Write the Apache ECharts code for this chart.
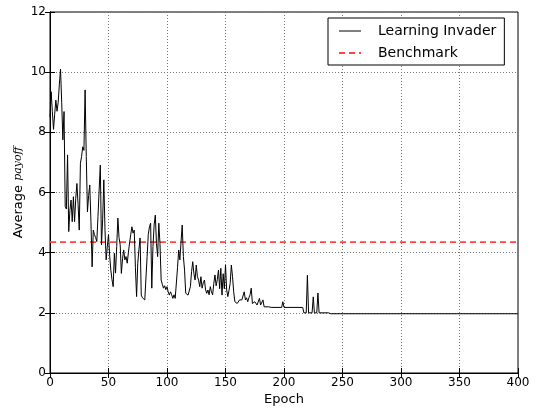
<!DOCTYPE html>
<html>
<head>
<meta charset="utf-8">
<script src="https://cdn.jsdelivr.net/npm/echarts@6/dist/echarts.min.js"></script>
<style>
  html, body { margin: 0; padding: 0; background: #fff; }
  #chart { width: 537px; height: 412px; }
</style>
</head>
<body>
<div id="chart"></div>
<script>
// Average payoff of the learning invader per training epoch
const epochs = [
  0, 1, 2, 3, 4, 5, 6, 7, 8, 9, 10, 11, 12, 13, 14, 15, 16, 17, 18, 19,
  20, 21, 22, 23, 24, 25, 26, 27, 28, 29, 30, 31, 32, 33, 34, 35, 36, 37, 38, 39,
  40, 41, 42, 43, 44, 45, 46, 47, 48, 49, 50, 51, 52, 53, 54, 55, 56, 57, 58, 59,
  60, 61, 62, 63, 64, 65, 66, 67, 68, 69, 70, 71, 72, 73, 74, 75, 76, 77, 78, 79,
  80, 81, 82, 83, 84, 85, 86, 87, 88, 89, 90, 91, 92, 93, 94, 95, 96, 97, 98, 99,
  100, 101, 102, 103, 104, 105, 106, 107, 108, 109, 110, 111, 112, 113, 114, 115, 116, 117, 118, 119,
  120, 121, 122, 123, 124, 125, 126, 127, 128, 129, 130, 131, 132, 133, 134, 135, 136, 137, 138, 139,
  140, 141, 142, 143, 144, 145, 146, 147, 148, 149, 150, 151, 152, 153, 154, 155, 156, 157, 158, 159,
  160, 161, 162, 163, 164, 165, 166, 167, 168, 169, 170, 171, 172, 173, 174, 175, 176, 177, 178, 179,
  180, 181, 182, 183, 187, 188, 189, 198, 199, 200, 216, 217, 219, 220, 221, 224, 225, 226, 228, 229,
  230, 238, 240, 400
];
const payoff = [
  8.5, 9.35, 8.7, 8.1, 8.6, 9.07, 8.7, 9.0, 9.6, 10.1, 9.0, 7.75, 8.69, 5.53, 5.45, 7.25, 4.7, 5.4, 5.75, 5.03,
  5.86, 5.03, 5.8, 6.3, 5.6, 4.75, 6.97, 7.2, 7.52, 7.4, 9.41, 7.2, 5.36, 5.9, 6.25, 5.03, 3.53, 4.75, 4.6, 4.5,
  4.37, 5.2, 6.08, 6.91, 4.26, 5.09, 6.42, 4.75, 3.76, 4.2, 4.6, 3.9, 3.42, 3.1, 2.87, 3.98, 3.32, 4.2, 5.15, 4.5,
  4.26, 3.31, 3.8, 4.09, 3.76, 3.87, 3.65, 4.0, 4.32, 4.6, 4.86, 4.65, 4.75, 3.5, 2.54, 3.65, 4.1, 4.49, 2.59, 2.5,
  2.49, 2.43, 2.38, 3.87, 4.6, 4.86, 4.98, 2.82, 4.2, 4.92, 5.25, 4.3, 3.87, 4.98, 4.3, 3.09, 2.95, 2.82, 2.9, 2.77,
  2.87, 2.7, 2.59, 2.7, 2.6, 2.48, 2.6, 2.48, 2.52, 3.5, 4.09, 3.76, 4.36, 4.92, 3.87, 3.42, 2.65, 2.62, 2.59, 2.54,
  2.87, 3.37, 3.7, 3.3, 3.09, 3.59, 3.2, 3.09, 2.87, 3.2, 2.82, 3.0, 3.09, 2.76, 2.65, 2.76, 2.6, 2.87, 2.7, 2.6,
  2.98, 3.26, 2.9, 3.1, 3.42, 2.8, 3.48, 2.59, 3.3, 2.8, 3.59, 2.76, 2.54, 2.75, 2.98, 3.59, 3.2, 2.7, 2.37, 2.31,
  2.31, 2.31, 2.43, 2.48, 2.43, 2.45, 2.7, 2.43, 2.5, 2.37, 2.5, 2.6, 2.82, 2.31, 2.31, 2.37, 2.31, 2.26, 2.26, 2.48,
  2.26, 2.26, 2.43, 2.2, 2.2, 2.26, 2.18, 2.18, 2.37, 2.18, 2.18, 2.0, 2.0, 3.25, 2.0, 2.0, 2.53, 2.0, 2.0, 2.66,
  2.0, 2.0, 1.97, 1.97
];

// Constant benchmark payoff
const benchmarkEpochs = [0, 400];
const benchmarkValue = 4.35;

const xTicks = { min: 0, max: 400, interval: 50 };
const yTicks = { min: 0, max: 12, interval: 2 };

const font = 'DejaVu Sans';
const gridLine = { show: true, lineStyle: { color: '#777', width: 1, type: [1, 2] } };
const hiddenMarker = { color: 'rgba(0,0,0,0)', borderColor: 'rgba(0,0,0,0)', borderWidth: 0 };

const chart = echarts.init(document.getElementById('chart'), null, { renderer: 'canvas' });

chart.setOption({
  animation: false,
  backgroundColor: '#fff',
  grid: {
    left: 50, right: 19, top: 12, bottom: 39,
    show: true, borderColor: '#000', borderWidth: 1,
    outerBoundsMode: 'none'
  },
  legend: {
    orient: 'vertical',
    left: 328, top: 18,
    padding: [6, 8, 5, 10],
    itemGap: 8,
    itemWidth: 22, itemHeight: 14,
    backgroundColor: '#fff',
    borderColor: '#000', borderWidth: 1, borderRadius: 0,
    itemStyle: hiddenMarker,
    textStyle: { fontFamily: font, fontSize: 14, color: '#000', padding: [0, 0, 0, 12] },
    data: [
      { name: 'Learning Invader', lineStyle: { width: 1 } },
      { name: 'Benchmark' }
    ]
  },
  xAxis: [
    {
      type: 'value', position: 'bottom',
      min: xTicks.min, max: xTicks.max, interval: xTicks.interval,
      name: 'Epoch', nameLocation: 'middle', nameGap: 20, nameMoveOverlap: false,
      nameTextStyle: { fontFamily: font, fontSize: 13, color: '#000' },
      axisLine: { show: true, lineStyle: { color: '#000', width: 1 } },
      axisTick: { show: true, inside: true, length: 5, lineStyle: { color: '#000' } },
      axisLabel: { fontFamily: font, fontSize: 12, color: '#000', margin: 4 },
      splitLine: gridLine
    },
    {
      type: 'value', position: 'top',
      min: xTicks.min, max: xTicks.max, interval: xTicks.interval,
      axisLine: { show: true, lineStyle: { color: '#000', width: 1 } },
      axisTick: { show: true, inside: true, length: 5, lineStyle: { color: '#000' } },
      axisLabel: { show: false },
      splitLine: { show: false }
    }
  ],
  yAxis: [
    {
      type: 'value', position: 'left',
      min: yTicks.min, max: yTicks.max, interval: yTicks.interval,
      name: '{a|Average }{b|payoff}',
      nameLocation: 'middle', nameRotate: 90, nameGap: 25, nameMoveOverlap: false,
      nameTextStyle: {
        color: '#000',
        rich: {
          a: { fontFamily: font, fontSize: 13, color: '#000' },
          b: { fontFamily: 'DejaVu Serif', fontStyle: 'italic', fontSize: 11, color: '#000' }
        }
      },
      axisLine: { show: true, lineStyle: { color: '#000', width: 1 } },
      axisTick: { show: true, inside: true, length: 5, lineStyle: { color: '#000' } },
      axisLabel: { fontFamily: font, fontSize: 12, color: '#000', margin: 4, padding: [0, 0, 5, 0] },
      splitLine: gridLine
    },
    {
      type: 'value', position: 'right',
      min: yTicks.min, max: yTicks.max, interval: yTicks.interval,
      axisLine: { show: true, lineStyle: { color: '#000', width: 1 } },
      axisTick: { show: true, inside: true, length: 5, lineStyle: { color: '#000' } },
      axisLabel: { show: false },
      splitLine: { show: false }
    }
  ],
  series: [
    {
      name: 'Learning Invader',
      type: 'line',
      xAxisIndex: 0, yAxisIndex: 0,
      symbol: 'none',
      lineStyle: { color: '#000', width: 1 },
      itemStyle: { color: '#000' },
      data: epochs.map((e, i) => [e, payoff[i]]),
      z: 3
    },
    {
      name: 'Benchmark',
      type: 'line',
      xAxisIndex: 0, yAxisIndex: 0,
      symbol: 'none',
      lineStyle: { color: '#f44', width: 1.6, type: [6, 4] },
      itemStyle: { color: '#f44' },
      data: benchmarkEpochs.map(e => [e, benchmarkValue]),
      z: 2
    }
  ]
});
</script>
</body>
</html>
